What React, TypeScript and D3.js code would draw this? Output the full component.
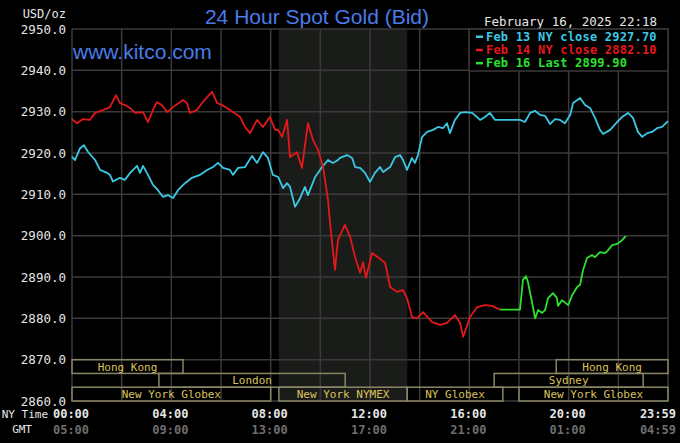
import React from "react";
import * as d3 from "d3";

const Y_TICKS = [2860, 2870, 2880, 2890, 2900, 2910, 2920, 2930, 2940, 2950];
const X_TICK_HOURS = [0, 4, 8, 12, 16, 20, 24];
const NY_LABELS = ["00:00", "04:00", "08:00", "12:00", "16:00", "20:00", "23:59"];
const GMT_LABELS = ["05:00", "09:00", "13:00", "17:00", "21:00", "01:00", "04:59"];
const GRID_HOURS = [0, 2, 4, 6, 8, 10, 12, 14, 16, 18, 20, 22, 24];
const NYMEX_SHADE = [8.33, 13.5];

const SESSIONS = [
  { label: "Hong Kong", start: 0, end: 4.47, row: 0 },
  { label: "London", start: 3.5, end: 11.0, row: 1 },
  { label: "New York Globex", start: 0, end: 8.0, row: 2 },
  { label: "New York NYMEX", start: 8.33, end: 13.5, row: 2 },
  { label: "NY Globex", start: 13.5, end: 17.35, row: 2 },
  { label: "New York Globex", start: 18.0, end: 24, row: 2 },
  { label: "Sydney", start: 17.0, end: 23.0, row: 1 },
  { label: "Hong Kong", start: 19.5, end: 24, row: 0 },
];

const FEB13: [number, number][] = [
  [0, 2919.1], [0.12, 2918.3], [0.32, 2921.1], [0.48, 2921.9], [0.64, 2920.3], [0.93, 2918.3],
  [1.13, 2915.9], [1.41, 2915.2], [1.53, 2914.7], [1.65, 2913.1], [1.93, 2914.0], [2.13, 2913.5],
  [2.34, 2915.2], [2.62, 2916.9], [2.74, 2915.2], [2.86, 2916.9], [3.06, 2914.7], [3.26, 2912.3],
  [3.46, 2911.0], [3.66, 2909.4], [3.87, 2909.8], [4.07, 2909.1], [4.27, 2911.0], [4.55, 2912.7],
  [4.83, 2914.0], [5.15, 2914.7], [5.44, 2915.9], [5.68, 2916.6], [5.88, 2917.6], [6.08, 2916.4],
  [6.36, 2915.9], [6.48, 2914.7], [6.69, 2916.4], [6.97, 2916.6], [7.25, 2919.3], [7.45, 2917.6],
  [7.69, 2920.2], [7.89, 2918.8], [8.09, 2914.7], [8.3, 2914.2], [8.5, 2911.5], [8.66, 2912.7],
  [8.78, 2911.8], [8.98, 2907.0], [9.18, 2909.0], [9.38, 2911.8], [9.5, 2909.8], [9.79, 2914.2],
  [10.07, 2916.6], [10.31, 2918.3], [10.51, 2917.6], [10.71, 2918.3], [10.79, 2918.8], [11.08, 2919.5],
  [11.28, 2918.8], [11.4, 2916.6], [11.6, 2916.4], [11.8, 2915.2], [12.0, 2913.0], [12.2, 2915.2],
  [12.4, 2916.6], [12.53, 2915.4], [12.81, 2916.6], [13.01, 2919.0], [13.21, 2919.5], [13.33, 2918.3],
  [13.49, 2915.9], [13.69, 2918.8], [13.81, 2917.6], [13.93, 2919.5], [14.1, 2923.9], [14.3, 2925.1],
  [14.54, 2925.6], [14.74, 2926.3], [14.94, 2926.0], [15.1, 2927.2], [15.22, 2924.8], [15.42, 2928.0],
  [15.63, 2929.7], [15.83, 2929.9], [16.11, 2929.7], [16.31, 2928.7], [16.43, 2928.0], [16.63, 2928.7],
  [16.83, 2929.7], [17.04, 2928.0], [18.04, 2928.0], [18.24, 2927.5], [18.45, 2929.7], [18.65, 2930.2],
  [18.85, 2929.2], [19.05, 2929.0], [19.25, 2927.0], [19.45, 2928.2], [19.65, 2928.0], [19.85, 2927.2],
  [20.06, 2929.2], [20.18, 2932.1], [20.46, 2933.3], [20.66, 2931.6], [20.86, 2930.9], [21.06, 2928.5],
  [21.26, 2925.6], [21.39, 2924.6], [21.67, 2925.6], [21.95, 2927.5], [22.15, 2928.7], [22.39, 2929.7],
  [22.59, 2928.5], [22.79, 2925.1], [22.96, 2923.9], [23.16, 2924.8], [23.36, 2925.1], [23.56, 2926.0],
  [23.76, 2926.3], [24.0, 2927.7],
];

const FEB14: [number, number][] = [
  [0, 2928.2], [0.2, 2927.2], [0.44, 2928.2], [0.72, 2928.0], [0.93, 2929.7], [1.25, 2930.4],
  [1.53, 2931.1], [1.77, 2934.0], [1.93, 2932.1], [2.13, 2931.6], [2.34, 2930.9], [2.54, 2929.7],
  [2.86, 2929.9], [3.06, 2927.5], [3.26, 2930.4], [3.42, 2932.3], [3.62, 2931.6], [3.83, 2929.9],
  [4.07, 2931.1], [4.47, 2932.8], [4.63, 2932.1], [4.75, 2929.7], [5.03, 2930.4], [5.24, 2932.1],
  [5.44, 2933.5], [5.64, 2934.8], [5.84, 2932.1], [6.04, 2931.6], [6.24, 2930.9], [6.48, 2929.9],
  [6.77, 2928.7], [6.97, 2926.3], [7.17, 2924.8], [7.45, 2928.0], [7.69, 2926.3], [7.97, 2928.7],
  [8.18, 2925.6], [8.3, 2925.6], [8.46, 2923.9], [8.66, 2928.0], [8.78, 2919.0], [9.06, 2920.2],
  [9.26, 2916.4], [9.5, 2927.2], [9.71, 2923.1], [9.91, 2920.7], [10.11, 2916.6], [10.31, 2908.6],
  [10.39, 2903.0], [10.59, 2891.7], [10.71, 2899.0], [10.99, 2902.6], [11.2, 2899.7], [11.4, 2894.8],
  [11.6, 2891.0], [11.72, 2893.6], [11.84, 2889.8], [12.08, 2895.8], [12.32, 2894.8], [12.61, 2893.4],
  [12.81, 2887.6], [13.09, 2886.4], [13.33, 2886.8], [13.49, 2884.9], [13.69, 2880.3], [13.89, 2880.0],
  [14.14, 2881.5], [14.5, 2879.1], [14.82, 2878.4], [15.1, 2878.9], [15.42, 2880.8], [15.63, 2878.9],
  [15.75, 2875.5], [16.03, 2880.3], [16.31, 2882.7], [16.63, 2883.2], [16.91, 2883.0], [17.24, 2882.1],
];

const FEB16: [number, number][] = [
  [17.24, 2882.1], [18.04, 2882.1], [18.16, 2889.3], [18.28, 2890.2], [18.36, 2888.8], [18.53, 2883.7],
  [18.65, 2880.0], [18.77, 2882.0], [18.93, 2881.3], [19.05, 2882.0], [19.17, 2884.9], [19.37, 2886.1],
  [19.53, 2884.9], [19.57, 2883.0], [19.73, 2884.4], [19.98, 2883.2], [20.14, 2885.6], [20.34, 2887.6],
  [20.46, 2888.1], [20.58, 2891.7], [20.74, 2894.6], [20.94, 2895.3], [21.06, 2894.8], [21.26, 2896.0],
  [21.47, 2895.8], [21.59, 2896.5], [21.75, 2897.7], [21.95, 2898.0], [22.15, 2898.9], [22.3, 2899.9],
];

const LEGEND = [
  { text: "Feb 13 NY close 2927.70", color: "#3cc8e4", data: FEB13 },
  { text: "Feb 14 NY close 2882.10", color: "#e41818", data: FEB14 },
  { text: "Feb 16 Last 2899.90", color: "#2ee02e", data: FEB16 },
];

const MONO = "'DejaVu Sans Mono', 'Liberation Mono', monospace";

export default function App() {
  const W = 680, H = 443;
  const x = d3.scaleLinear().domain([0, 24]).range([72, 668]);
  const y = d3.scaleLinear().domain([2860, 2950]).range([401, 29]);
  const line = d3.line<[number, number]>().x((d) => x(d[0])).y((d) => y(d[1]));
  const rowH = (y(2860) - y(2870)) / 3;
  const grid = "#3a3a3a";
  const sessStroke = "#8a8565";
  const sessText = "#dcc25a";
  const last = X_TICK_HOURS.length - 1;

  return (
    <svg width={W} height={H} style={{ position: "absolute", left: 0, top: 0, background: "#000" }}>
      <rect x={0} y={0} width={W} height={H} fill="#000" />
      <rect x={x(NYMEX_SHADE[0])} y={y(2950)} width={x(NYMEX_SHADE[1]) - x(NYMEX_SHADE[0])} height={y(2860) - y(2950)} fill="#1a1c19" />
      {GRID_HOURS.map((h) => (
        <line key={"v" + h} x1={x(h)} x2={x(h)} y1={y(2950)} y2={y(2860)} stroke={grid} strokeWidth={1.5} />
      ))}
      {Y_TICKS.map((t) => (
        <line key={"h" + t} x1={x(0)} x2={x(24)} y1={y(t)} y2={y(t)} stroke={grid} strokeWidth={1.5} />
      ))}
      {SESSIONS.map((s, i) => {
        const y0 = y(2870) + s.row * rowH;
        return (
          <g key={"s" + i}>
            <rect x={x(s.start)} y={y0} width={x(s.end) - x(s.start)} height={rowH} fill="none" stroke={sessStroke} strokeWidth={1.5} />
            <text x={(x(s.start) + x(s.end)) / 2} y={y0 + rowH / 2 + 4} textAnchor="middle" fill={sessText} fontFamily={MONO} fontSize={11}>
              {s.label}
            </text>
          </g>
        );
      })}
      {LEGEND.map((l) => (
        <path key={l.text} d={line(l.data) || ""} fill="none" stroke={l.color} strokeWidth={1.8} strokeLinejoin="round" />
      ))}
      {Y_TICKS.map((t) => (
        <text key={"yl" + t} x={66} y={y(t) + 4.5} textAnchor="end" fill="#e6e6e6" fontFamily={MONO} fontSize={12.5}>
          {t.toFixed(1)}
        </text>
      ))}
      <text x={66} y={18} textAnchor="end" fill="#e6e6e6" fontFamily={MONO} fontSize={12}>USD/oz</text>
      <text x={48} y={418} textAnchor="end" fill="#e6e6e6" fontFamily={MONO} fontSize={11}>NY Time</text>
      <text x={32} y={433} textAnchor="end" fill="#e6e6e6" fontFamily={MONO} fontSize={11}>GMT</text>
      {X_TICK_HOURS.map((h, i) => (
        <g key={"xl" + h}>
          <text x={i === last ? 676 : x(h) - 1} y={418} textAnchor={i === last ? "end" : "middle"} fill="#e6e6e6" fontFamily={MONO} fontSize={12} fontWeight="bold">
            {NY_LABELS[i]}
          </text>
          <text x={i === last ? 676 : x(h) - 1} y={434} textAnchor={i === last ? "end" : "middle"} fill="#6e6e6e" fontFamily={MONO} fontSize={12} fontWeight="bold">
            {GMT_LABELS[i]}
          </text>
        </g>
      ))}
      <text x={317} y={24} textAnchor="middle" fill="#4a7ce8" fontFamily="'Liberation Sans', Arial, sans-serif" fontSize={21}>
        24 Hour Spot Gold (Bid)
      </text>
      <text x={73} y={59} fill="#4a7ce8" fontFamily="'Liberation Sans', Arial, sans-serif" fontSize={21}>
        www.kitco.com
      </text>
      <text x={657} y={26} textAnchor="end" fill="#e6e6e6" fontFamily={MONO} fontSize={12.5}>
        February 16, 2025 22:18
      </text>
      <rect x={469} y={y(2950)} width={x(24) - 469} height={42} fill="#000" stroke={grid} strokeWidth={1.5} />
      {LEGEND.map((l, i) => (
        <g key={"lg" + i}>
          <rect x={476} y={35.5 + i * 13.2} width={7} height={2.5} fill={l.color} />
          <text x={486} y={40.5 + i * 13.2} fill={l.color} fontFamily={MONO} fontSize={12} fontWeight="bold" letterSpacing={0.2}>
            {l.text}
          </text>
        </g>
      ))}
    </svg>
  );
}
